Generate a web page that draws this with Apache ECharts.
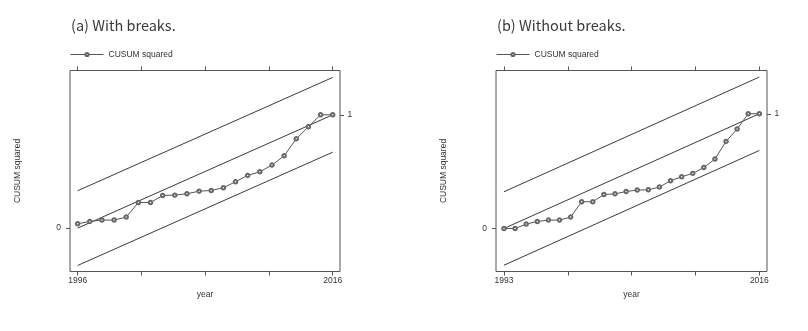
<!DOCTYPE html>
<html>
<head>
<meta charset="utf-8">
<script src="https://cdn.jsdelivr.net/npm/echarts@6/dist/echarts.min.js"></script>
<style>
html,body{margin:0;padding:0;background:#fff;}
#chart{width:808px;height:331px;}
</style>
</head>
<body>
<div id="chart"></div>
<script>
// Panel (a): with breaks
const titleA = '(a) With breaks.';
const yearLabelsA = ['1996', '2016'];
const cusumA = [0.038, 0.059, 0.071, 0.071, 0.097, 0.226, 0.226, 0.288, 0.291, 0.303, 0.326,
                0.332, 0.356, 0.409, 0.465, 0.497, 0.556, 0.638, 0.788, 0.894, 1.0, 1.0];
const bandA = 0.33;

// Panel (b): without breaks
const titleB = '(b) Without breaks.';
const yearLabelsB = ['1993', '2016'];
const cusumB = [0, 0, 0.038, 0.061, 0.073, 0.073, 0.099, 0.233, 0.233, 0.296, 0.302, 0.322,
                0.335, 0.337, 0.361, 0.416, 0.451, 0.480, 0.532, 0.605, 0.759, 0.867, 1.0, 1.0];
const bandB = 0.32;

const seriesName = 'CUSUM squared';
const yTickLabels = ['0', '1'];

const chart = echarts.init(document.getElementById('chart'));
const txt = '#333';
const lineCol = '#3a3a3a';
const font = 'Liberation Sans';

function panel(p, cfg) {
  const n = cfg.values.length;
  const last = n - 1;
  const ticks = [0, last / 4, last / 2, 3 * last / 4, last];
  const grid = {
    left: cfg.left, top: 70.5, width: cfg.width, height: 201,
    show: true, borderColor: '#555', borderWidth: 1, backgroundColor: 'transparent'
  };
  const xBottom = {
    type: 'value', gridIndex: p, position: 'bottom', min: cfg.xmin, max: cfg.xmax,
    axisLine: { show: false, onZero: false },
    axisTick: { show: true, customValues: ticks, length: 4, lineStyle: { color: '#555' } },
    axisLabel: { show: true, customValues: [0, last], margin: 5, fontSize: 8.5, color: txt, fontFamily: font,
      formatter: v => (v === 0 ? cfg.labels[0] : cfg.labels[1]) },
    splitLine: { show: false },
    name: 'year', nameLocation: 'middle', nameGap: 14,
    nameTextStyle: { fontSize: 8.5, color: txt, fontFamily: font }
  };
  const xTop = {
    type: 'value', gridIndex: p, position: 'top', min: cfg.xmin, max: cfg.xmax,
    axisLine: { show: false, onZero: false },
    axisTick: { show: true, customValues: ticks, length: 4, lineStyle: { color: '#555' } },
    axisLabel: { show: false }, splitLine: { show: false }
  };
  const yLeft = {
    type: 'value', gridIndex: p, position: 'left', min: cfg.ymin, max: cfg.ymax,
    axisLine: { show: false, onZero: false },
    axisTick: { show: true, customValues: [0], length: 4, lineStyle: { color: '#555' } },
    axisLabel: { show: true, customValues: [0], margin: 9, fontSize: 8.5, color: txt, fontFamily: font,
      formatter: () => yTickLabels[0] },
    splitLine: { show: false },
    name: seriesName, nameLocation: 'middle', nameRotate: 90, nameGap: 48,
    nameTextStyle: { fontSize: 8.5, color: txt, fontFamily: font }
  };
  const yRight = {
    type: 'value', gridIndex: p, position: 'right', min: cfg.ymin, max: cfg.ymax,
    axisLine: { show: false, onZero: false },
    axisTick: { show: true, customValues: [1], length: 4, lineStyle: { color: '#555' } },
    axisLabel: { show: true, customValues: [1], margin: 7.5, fontSize: 8.5, color: txt, fontFamily: font,
      formatter: () => yTickLabels[1] },
    splitLine: { show: false }
  };
  const xi = 2 * p, yi = 2 * p;
  const straight = (a, b) => ({
    type: 'line', xAxisIndex: xi, yAxisIndex: yi, data: [[0, a], [last, b]],
    showSymbol: false, symbol: 'none', silent: true,
    lineStyle: { color: lineCol, width: 1 }, z: 2
  });
  const series = [
    straight(cfg.band, 1 + cfg.band),
    straight(0, 1),
    straight(-cfg.band, 1 - cfg.band),
    {
      name: seriesName, type: 'line', xAxisIndex: xi, yAxisIndex: yi,
      data: cfg.values.map((v, i) => [i, v]),
      symbol: 'emptyCircle', symbolSize: 3.5, showSymbol: true,
      lineStyle: { color: '#555', width: 1 },
      itemStyle: { color: '#666', borderWidth: 0.8 },
      z: 3
    }
  ];
  const title = {
    text: cfg.title, left: cfg.left - 4, top: 13,
    textStyle: { fontFamily: 'Noto Sans CJK SC', fontSize: 14.5, fontWeight: 'normal', color: '#3a3a3a' }
  };
  const legend = {
    data: [seriesName], left: cfg.left, top: 50, padding: 0,
    itemWidth: 33, itemHeight: 4, itemGap: 4,
    lineStyle: { width: 1, color: '#555' },
    itemStyle: { color: '#666', borderWidth: 0.8 },
    textStyle: { fontSize: 8.5, color: txt, fontFamily: font }
  };
  return { grid, xAxes: [xBottom, xTop], yAxes: [yLeft, yRight], series, title, legend };
}

const pa = panel(0, { left: 70, width: 270, values: cusumA, labels: yearLabelsA, band: bandA,
  xmin: -0.63, xmax: 21.6, ymin: -0.383, ymax: 1.391, title: titleA });
const pb = panel(1, { left: 496, width: 271, values: cusumB, labels: yearLabelsB, band: bandB,
  xmin: -0.72, xmax: 23.69, ymin: -0.375, ymax: 1.377, title: titleB });

// series of panel b use axes 2/3
pb.series.forEach(s => { s.xAxisIndex = 2; s.yAxisIndex = 2; });

chart.setOption({
  animation: false,
  backgroundColor: '#fff',
  title: [pa.title, pb.title],
  legend: [pa.legend, pb.legend],
  grid: [pa.grid, pb.grid],
  xAxis: [...pa.xAxes, ...pb.xAxes],
  yAxis: [...pa.yAxes, ...pb.yAxes],
  series: [...pa.series, ...pb.series]
});
</script>
</body>
</html>
